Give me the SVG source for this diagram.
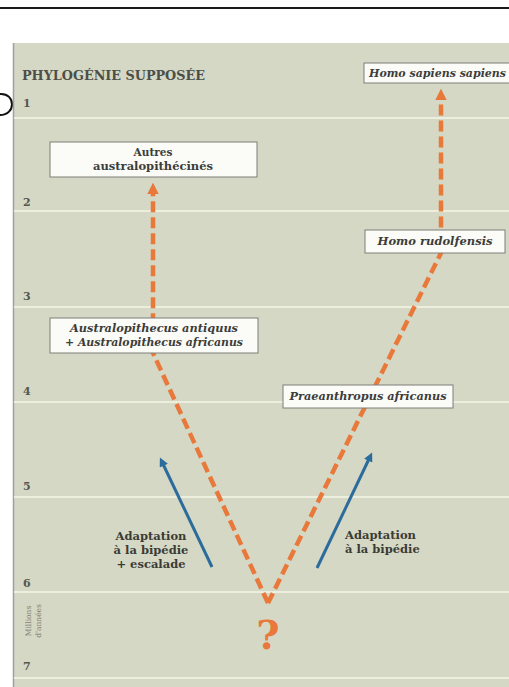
<svg xmlns="http://www.w3.org/2000/svg" width="509" height="687" viewBox="0 0 509 687">
<style>
.bg{fill:#d5d8c5}
.grid{stroke:#eceede;stroke-width:2}
.num{font-family:"DejaVu Serif","Liberation Serif",serif;font-size:11px;font-weight:bold;fill:#55574f}
.box{fill:#fbfbf8;stroke:#7d7f78;stroke-width:1}
.lbl{font-family:"DejaVu Serif","Liberation Serif",serif;font-size:10.5px;font-style:italic;font-weight:bold;fill:#3c3d3a}
.lblr{font-family:"DejaVu Serif","Liberation Serif",serif;font-size:10.5px;font-weight:bold;fill:#3c3d3a}
.ad{font-family:"DejaVu Serif","Liberation Serif",serif;font-size:11.5px;font-weight:bold;fill:#3a3b36}
.orange{fill:none;stroke:#e8793b;stroke-width:4.5;stroke-dasharray:11 5}
.blue{fill:none;stroke:#2c6c9c;stroke-width:3}
</style>
<defs>
<marker id="oa" viewBox="0 0 10 10" refX="2" refY="5" markerWidth="2.6" markerHeight="2.6" orient="auto" markerUnits="strokeWidth">
<path d="M0,0 L10,5 L0,10 z" fill="#e8793b"/>
</marker>
<marker id="ba" viewBox="0 0 10 10" refX="2" refY="5" markerWidth="4" markerHeight="3" orient="auto" markerUnits="strokeWidth">
<path d="M0,0 L10,5 L0,10 z" fill="#2c6c9c"/>
</marker>
</defs>
<rect width="509" height="687" fill="#ffffff"/>
<line x1="0" y1="8" x2="509" y2="8" stroke="#1a1a1a" stroke-width="2"/>
<path d="M0,94 C16,93 16,115 0,115" fill="none" stroke="#111" stroke-width="2"/>
<rect class="bg" x="13" y="43" width="496" height="644"/>
<line x1="13.5" y1="43" x2="13.5" y2="687" stroke="#9aa0a6" stroke-width="1.5"/>
<g id="grid">
<line class="grid" x1="14" y1="118" x2="509" y2="118"/>
<line class="grid" x1="14" y1="211" x2="509" y2="211"/>
<line class="grid" x1="14" y1="307" x2="509" y2="307"/>
<line class="grid" x1="14" y1="402" x2="509" y2="402"/>
<line class="grid" x1="14" y1="497" x2="509" y2="497"/>
<line class="grid" x1="14" y1="592" x2="509" y2="592"/>
<line class="grid" x1="14" y1="678" x2="509" y2="678"/>
</g>
<g id="axis">
<text class="num" x="23" y="107">1</text>
<text class="num" x="23" y="206">2</text>
<text class="num" x="23" y="300">3</text>
<text class="num" x="23" y="395">4</text>
<text class="num" x="23" y="490">5</text>
<text class="num" x="23" y="587">6</text>
<text class="num" x="23" y="670">7</text>
<g transform="translate(31,621) rotate(-90)" font-family="DejaVu Serif, Liberation Serif, serif" font-size="7.5" fill="#7d7f76" text-anchor="middle">
<text x="0" y="0">Millions</text>
<text x="0" y="10">d'années</text>
</g>
</g>
<text id="title" x="22" y="80" font-family="DejaVu Serif, Liberation Serif, serif" font-size="13" font-weight="bold" fill="#4c4e47" textLength="183" lengthAdjust="spacingAndGlyphs">PHYLOGÉNIE SUPPOSÉE</text>
<g id="connectors">
<path class="orange" d="M268,603 L153,353 L153,192" marker-end="url(#oa)"/>
<path class="orange" d="M268,603 L441,253 L441,98" marker-end="url(#oa)"/>
<line class="blue" x1="212" y1="567" x2="163" y2="464" marker-end="url(#ba)"/>
<line class="blue" x1="317" y1="568" x2="369" y2="459" marker-end="url(#ba)"/>
</g>
<g id="n-sapiens">
<rect class="box" x="364" y="63" width="150" height="20"/>
<text class="lbl" x="369" y="77" textLength="137" lengthAdjust="spacingAndGlyphs">Homo sapiens sapiens</text>
</g>
<g id="n-autres">
<rect class="box" x="50" y="142" width="207" height="35"/>
<text class="lblr" x="153" y="156" text-anchor="middle">Autres</text>
<text class="lblr" x="153" y="170" text-anchor="middle" textLength="120" lengthAdjust="spacingAndGlyphs">australopithécinés</text>
</g>
<g id="n-australo">
<rect class="box" x="50" y="318" width="208" height="35"/>
<text class="lbl" x="154" y="332" text-anchor="middle" textLength="168" lengthAdjust="spacingAndGlyphs">Australopithecus antiquus</text>
<text class="lbl" x="154" y="346" text-anchor="middle" textLength="178" lengthAdjust="spacingAndGlyphs">+ Australopithecus africanus</text>
</g>
<g id="n-rudolfensis">
<rect class="box" x="365" y="230" width="140" height="23"/>
<text class="lbl" x="435" y="245" text-anchor="middle" textLength="115" lengthAdjust="spacingAndGlyphs">Homo rudolfensis</text>
</g>
<g id="n-praeanthropus">
<rect class="box" x="283" y="385" width="170" height="23"/>
<text class="lbl" x="368" y="400" text-anchor="middle" textLength="157" lengthAdjust="spacingAndGlyphs">Praeanthropus africanus</text>
</g>
<g id="n-question">
<text x="268" y="649" text-anchor="middle" font-family="DejaVu Serif, Liberation Serif, serif" font-size="40" font-weight="bold" fill="#e8793b">?</text>
</g>
<g id="n-adapt-left">
<text class="ad" x="151" y="540" text-anchor="middle">Adaptation</text>
<text class="ad" x="151" y="554" text-anchor="middle">à la bipédie</text>
<text class="ad" x="151" y="568" text-anchor="middle">+ escalade</text>
</g>
<g id="n-adapt-right">
<text class="ad" x="345" y="539">Adaptation</text>
<text class="ad" x="345" y="553">à la bipédie</text>
</g>
</svg>
